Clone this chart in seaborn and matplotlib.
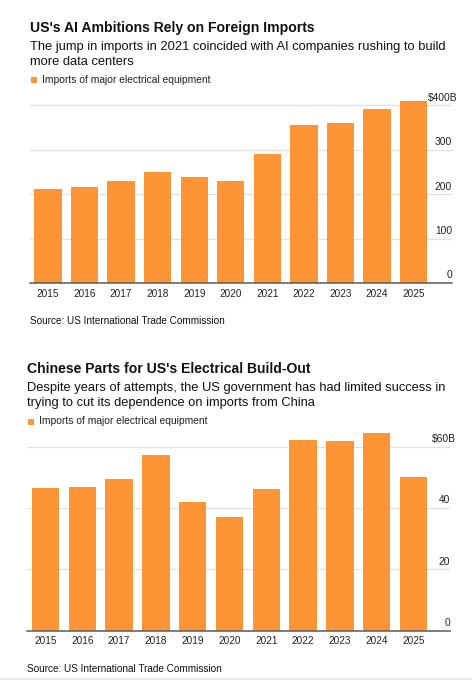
import matplotlib
matplotlib.use("Agg")
import matplotlib.pyplot as plt
import matplotlib.transforms as mtransforms
from matplotlib.patches import Rectangle
from matplotlib.lines import Line2D
import seaborn as sns
import pandas as pd

# ---------------- data ----------------
years = ["2015", "2016", "2017", "2018", "2019", "2020", "2021", "2022", "2023", "2024", "2025"]
us_imports = [212, 215, 229, 250, 239, 230, 291, 356, 361, 391, 410]   # $B, all countries
china_imports = [46.5, 46.8, 49.6, 57.3, 42.0, 37.1, 46.3, 62.1, 61.7, 64.6, 50.2]  # $B, from China
top_ticks = [0, 100, 200, 300, 400]
bottom_ticks = [0, 20, 40, 60]

title1 = "US's AI Ambitions Rely on Foreign Imports"
sub1 = ["The jump in imports in 2021 coincided with AI companies rushing to build",
        "more data centers"]
title2 = "Chinese Parts for US's Electrical Build-Out"
sub2 = ["Despite years of attempts, the US government has had limited success in",
        "trying to cut its dependence on imports from China"]
legend_label = "Imports of major electrical equipment"
source = "Source: US International Trade Commission"

BAR = "#fd9536"
TXT = "#111111"
GRID = "#e2e2e2"
BASE = "#5a5a5a"

sns.set_theme(style="white")
plt.rcParams["font.family"] = ["Liberation Sans", "DejaVu Sans"]

W, H = 472, 680
fig = plt.figure(figsize=(W / 100, H / 100), dpi=100)
fig.patch.set_facecolor("white")


def fy(px):
    return 1 - px / H


def fx(px):
    return px / W


def make_panel(values, ticks, ylim, xlim, left, right, top_px, base_px, title, subs,
               title_y, sub_y, leg_y, src_y, show_ticks):
    ax = fig.add_axes([fx(left), fy(base_px), fx(right - left), (base_px - top_px) / H])
    df = pd.DataFrame({"year": years, "value": values})
    sns.barplot(data=df, x="year", y="value", color=BAR, saturation=1, width=0.745,
                linewidth=0, ax=ax)
    ax.set_xlim(*xlim)
    ax.set_ylim(*ylim)
    ax.set_xlabel("")
    ax.set_ylabel("")
    ax.set_facecolor("none")
    for s in ["top", "right", "left"]:
        ax.spines[s].set_visible(False)
    ax.spines["bottom"].set_color(BASE)
    ax.spines["bottom"].set_linewidth(1.1)
    ax.spines["bottom"].set_zorder(5)
    ax.set_yticks(ticks)
    ax.set_yticklabels([])
    ax.tick_params(axis="y", length=0)
    ax.yaxis.grid(True, color=GRID, linewidth=1.0)
    ax.xaxis.grid(False)
    ax.set_axisbelow(True)
    if show_ticks:
        ax.tick_params(axis="x", length=2.5, width=0.8, color=BASE, pad=1.6,
                       labelsize=7.2, labelcolor="#222222")
    else:
        ax.tick_params(axis="x", length=0, pad=3.8, labelsize=7.2, labelcolor="#222222")
    trans = mtransforms.blended_transform_factory(ax.transAxes, ax.transData)
    for i, t in enumerate(ticks):
        last = i == len(ticks) - 1
        lab = f"${t}B" if last else f"{t}"
        ax.annotate(lab, xy=(1.0, t), xycoords=trans,
                    xytext=(4.3 if last else 0, 3.3),
                    textcoords="offset points", ha="right", va="baseline",
                    fontsize=7.4, color="#222222")
    # texts
    fig.text(fx(left), fy(title_y), title, fontsize=10.1, fontweight="bold",
             color=TXT, va="baseline", ha="left")
    for s, y in zip(subs, sub_y):
        fig.text(fx(left), fy(y), s, fontsize=9.25, color=TXT, va="baseline", ha="left")
    fig.patches.append(Rectangle((fx(left + 1), fy(leg_y)), fx(6), 6 / H,
                                 transform=fig.transFigure, facecolor=BAR,
                                 edgecolor="none"))
    fig.text(fx(left + 12), fy(leg_y), legend_label, fontsize=7.4, color="#222222",
             va="baseline", ha="left")
    fig.text(fx(left), fy(src_y), source, fontsize=7.2, color=TXT, va="baseline", ha="left")
    return ax


ax1 = make_panel(us_imports, top_ticks, (0, 420), (-0.49, 11.05), 30, 452,
                 283 - 420 * 0.4443, 283,
                 title1, sub1, 32, [50, 65], 83, 324, True)
ax2 = make_panel(china_imports, bottom_ticks, (0, 66), (-0.503, 10.99), 27, 450,
                 630.7 - 66 * 3.067, 630.7,
                 title2, sub2, 373.3, [391, 406], 424.5, 671.5, False)

fig.lines.append(Line2D([0, 1], [fy(678.5), fy(678.5)], transform=fig.transFigure,
                        color="#e4e4e4", linewidth=1.2))

fig.savefig("out.png", dpi=100, facecolor="white")
